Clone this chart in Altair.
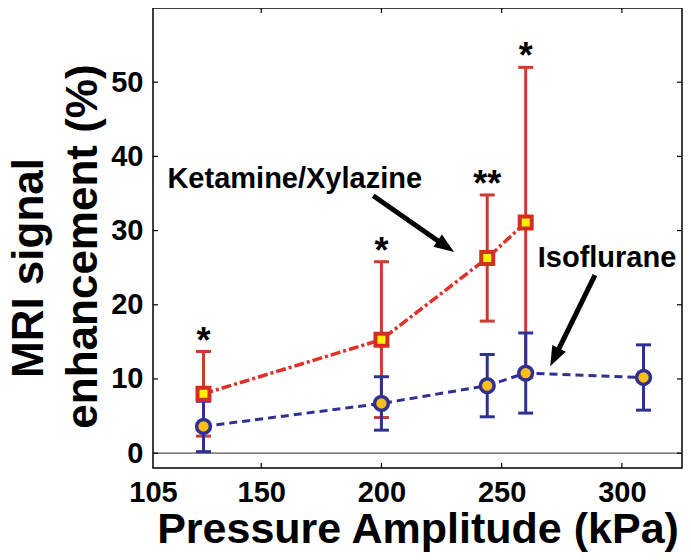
import math
import altair as alt
import pandas as pd

# ---------------- data ----------------
ket_x = [126, 200, 244, 260]
ket_mean = [8.0, 15.3, 26.3, 31.1]
ket_err = [5.7, 10.5, 8.5, 20.9]
star_text = ["*", "*", "**", "*"]

iso_x = [126, 200, 244, 260, 309]
iso_mean = [3.6, 6.7, 9.1, 10.8, 10.2]
iso_err = [3.4, 3.6, 4.2, 5.4, 4.4]

x_ticks = [105, 150, 200, 250, 300]
y_ticks = [0, 10, 20, 30, 40, 50]

labels_text = ["Ketamine/Xylazine", "Isoflurane"]
labels_x = [111, 265]
labels_y = [35.8, 25.1]

arrow_tail_x = [196.6, 288.8]
arrow_tail_y = [34.7, 24.0]
arrow_tip_x = [230.2, 270.2]
arrow_tip_y = [27.1, 11.7]

X_DOMAIN = [105, 325]
Y_DOMAIN = [-2, 60]
W, H = 529, 460

RED = "#d42e24"
RED_BAR = "#cc3b30"
YELLOW = "#fff200"
BLUE = "#2f3192"
GOLD = "#f9bf17"
FONT = "Liberation Sans"

# ---------------- tables ----------------
ket = pd.DataFrame({"x": ket_x, "m": ket_mean, "e": ket_err, "star": star_text})
ket["lo"] = ket["m"] - ket["e"]
ket["hi"] = ket["m"] + ket["e"]
iso = pd.DataFrame({"x": iso_x, "m": iso_mean, "e": iso_err})
iso["lo"] = iso["m"] - iso["e"]
iso["hi"] = iso["m"] + iso["e"]

PX = W / (X_DOMAIN[1] - X_DOMAIN[0])
PY = H / (Y_DOMAIN[1] - Y_DOMAIN[0])
rows = []
for tx, ty, hx, hy in zip(arrow_tail_x, arrow_tail_y, arrow_tip_x, arrow_tip_y):
    dx = (hx - tx) * PX
    dy = -(hy - ty) * PY  # screen y grows downward
    L = math.hypot(dx, dy)
    ang = (math.degrees(math.atan2(dx, -dy)) + 360) % 360
    back = 12.0
    ex = hx - dx / L * back / PX
    ey = hy + dy / L * back / PY
    rows.append({"tx": tx, "ty": ty, "hx": hx, "hy": hy, "ex": ex, "ey": ey, "ang": ang})
arrows = pd.DataFrame(rows)
ann = pd.DataFrame({"t": labels_text, "x": labels_x, "y": labels_y})

xs = alt.Scale(domain=X_DOMAIN, nice=False, zero=False)
ys = alt.Scale(domain=Y_DOMAIN, nice=False, zero=False)

xaxis = alt.Axis(values=x_ticks, title="Pressure Amplitude (kPa)", labelFlush=False,
                 labelPadding=10, titleY=74, titleBaseline="alphabetic",
                 labelOverlap=False, format="d", titleFontSize=43)
yaxis = alt.Axis(values=y_ticks, title="enhancement (%)", labelPadding=10,
                 titleAngle=270, titleX=-57, titleY=238, titleAlign="center",
                 titleBaseline="alphabetic", labelOverlap=False, format="d")

X = lambda f: alt.X(f, type="quantitative", scale=xs, axis=xaxis)
Y = lambda f: alt.Y(f, type="quantitative", scale=ys, axis=yaxis)

# zero reference line
zero = alt.Chart(pd.DataFrame({"y": [0]})).mark_rule(color="#555555", strokeWidth=1.3).encode(
    y=Y("y"), x=alt.value(0), x2=alt.value(W))

# inward ticks on four sides
yt = pd.DataFrame({"y": y_ticks})
xt = pd.DataFrame({"x": x_ticks[1:]})
tick_style = dict(color="black", strokeWidth=1.2)
t_left = alt.Chart(yt).mark_rule(**tick_style).encode(y=Y("y"), x=alt.value(0), x2=alt.value(5))
t_right = alt.Chart(yt).mark_rule(**tick_style).encode(y=Y("y"), x=alt.value(W - 5), x2=alt.value(W))
t_bot = alt.Chart(xt).mark_rule(**tick_style).encode(x=X("x"), y=alt.value(H - 5), y2=alt.value(H))
t_top = alt.Chart(xt).mark_rule(**tick_style).encode(x=X("x"), y=alt.value(0), y2=alt.value(5))

# error bars
cap = dict(orient="horizontal", size=15, thickness=3, opacity=1)
ket_bar = alt.Chart(ket).mark_rule(color=RED_BAR, strokeWidth=3).encode(x=X("x"), y=Y("lo"), y2="hi")
ket_cap_hi = alt.Chart(ket).mark_tick(color=RED_BAR, **cap).encode(x=X("x"), y=Y("hi"))
ket_cap_lo = alt.Chart(ket).mark_tick(color=RED_BAR, **cap).encode(x=X("x"), y=Y("lo"))
iso_bar = alt.Chart(iso).mark_rule(color=BLUE, strokeWidth=3).encode(x=X("x"), y=Y("lo"), y2="hi")
iso_cap_hi = alt.Chart(iso).mark_tick(color=BLUE, **cap).encode(x=X("x"), y=Y("hi"))
iso_cap_lo = alt.Chart(iso).mark_tick(color=BLUE, **cap).encode(x=X("x"), y=Y("lo"))

# lines
iso_line = alt.Chart(iso).mark_line(color=BLUE, strokeWidth=3, strokeDash=[8, 5]).encode(x=X("x"), y=Y("m"))
ket_line = alt.Chart(ket).mark_line(color="#e0302a", strokeWidth=3.5, strokeDash=[10, 3, 3, 3]).encode(x=X("x"), y=Y("m"))

# markers
iso_pts = alt.Chart(iso).mark_point(shape="circle", filled=True, fill=GOLD, stroke=BLUE,
                                    strokeWidth=3.5, size=190, opacity=1).encode(x=X("x"), y=Y("m"))
ket_pts = alt.Chart(ket).mark_point(shape="square", filled=True, fill=YELLOW, stroke=RED,
                                    strokeWidth=4, size=144, opacity=1).encode(x=X("x"), y=Y("m"))

# significance stars
stars = alt.Chart(ket).mark_text(font=FONT, fontWeight="bold", fontSize=36, color="black",
                                 baseline="alphabetic", align="center", dy=1).encode(
    x=X("x"), y=Y("hi"), text="star:N")

# annotations
ann_text = alt.Chart(ann).mark_text(font=FONT, fontWeight="bold", fontSize=29, color="black",
                                    baseline="alphabetic", align="left").encode(
    x=X("x"), y=Y("y"), text="t:N")
shaft = alt.Chart(arrows).mark_rule(color="black", strokeWidth=5).encode(
    x=X("tx"), y=Y("ty"), x2="ex", y2="ey")
head = alt.Chart(arrows).mark_point(shape="M0,0L0.75,2L-0.75,2Z", filled=True, color="black",
                                    size=400, opacity=1).encode(
    x=X("hx"), y=Y("hy"), angle=alt.Angle("ang:Q", scale=None))

# first line of the y title (placed on its own, as in the reference)
ytitle2 = alt.Chart(pd.DataFrame({"t": ["MRI signal"]})).mark_text(
    font=FONT, fontWeight="bold", fontSize=44, angle=270, baseline="alphabetic",
    align="center", color="black").encode(x=alt.value(-110), y=alt.value(260), text="t:N")

chart = alt.layer(
    zero, t_left, t_right, t_bot, t_top,
    ket_bar, ket_cap_hi, ket_cap_lo,
    iso_bar, iso_cap_hi, iso_cap_lo,
    iso_line, ket_line, iso_pts, ket_pts,
    stars, shaft, head, ann_text, ytitle2,
).properties(
    width=W, height=H,
    padding={"left": 145, "top": 0, "right": 1, "bottom": 84},
    autosize=alt.AutoSizeParams(type="none"),
).configure_view(
    stroke="black", strokeWidth=1.5
).configure_axis(
    domain=False, ticks=False, tickSize=0, grid=False,
    labelFont=FONT, labelFontWeight="bold", labelFontSize=29, labelColor="black",
    titleFont=FONT, titleFontWeight="bold", titleFontSize=44, titleColor="black",
)

chart.save("out.html", embed_options={"renderer": "svg", "actions": False})
